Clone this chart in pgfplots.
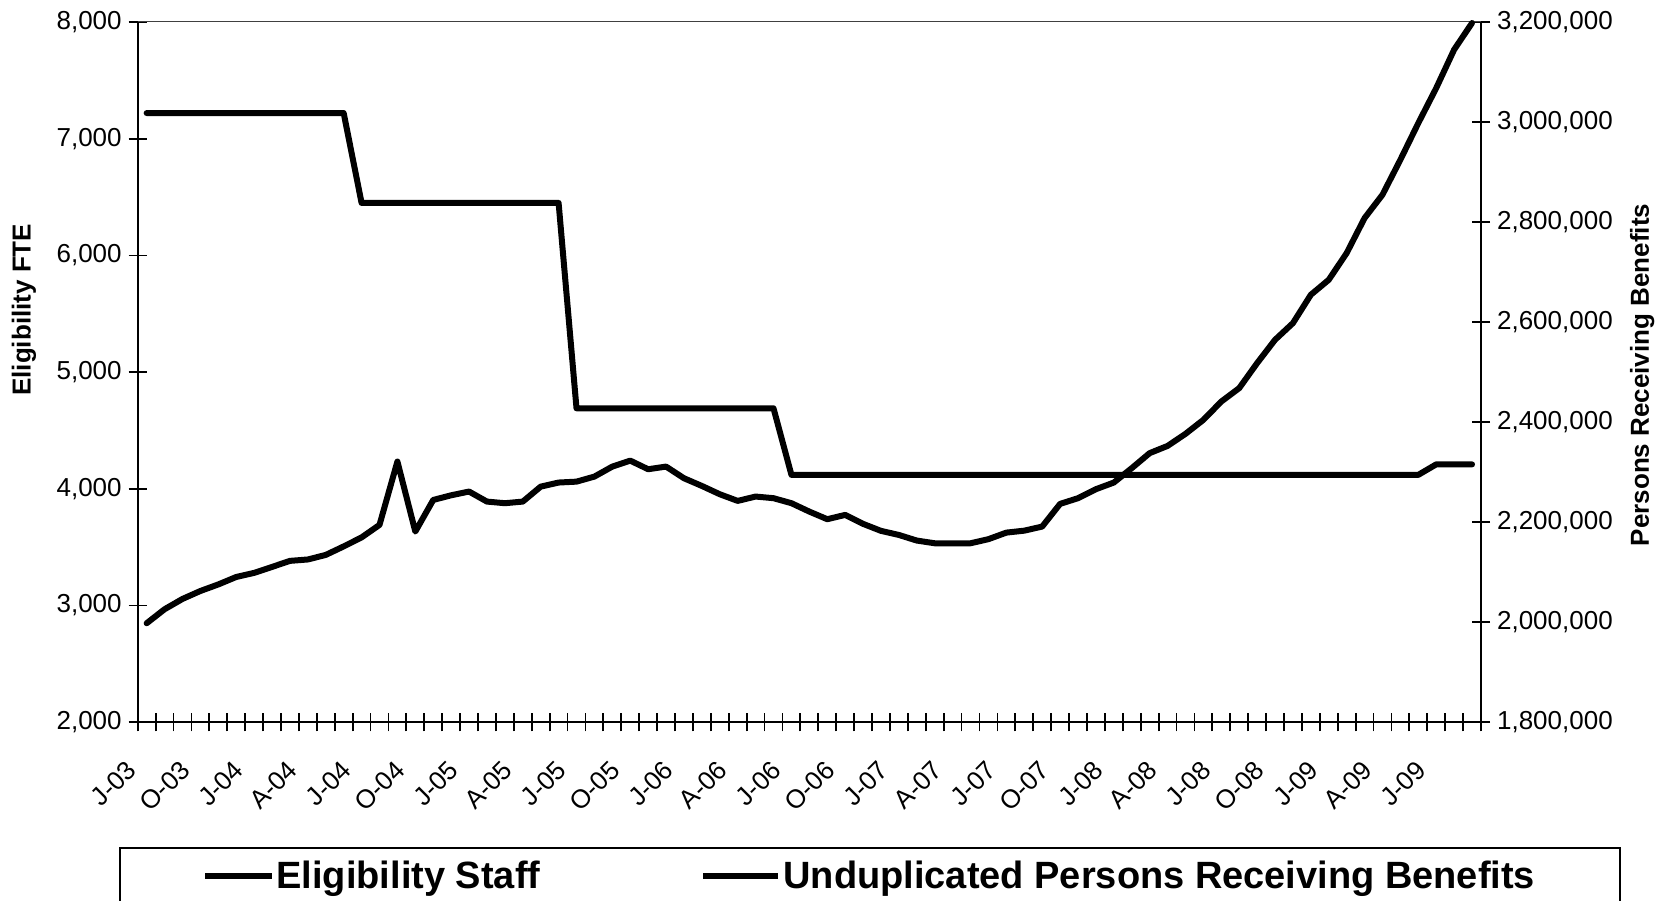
\documentclass[border=0pt]{standalone}
\usepackage{pgfplots}
\pgfplotsset{compat=1.18}
\usepackage{fontspec}
\setmainfont{Liberation Sans}

% Monthly series, Jul 2003 (1) to Sep 2009 (75)
\begin{document}
\begin{tikzpicture}
\pgfplotsset{
  common/.style={
    scale only axis, width=671.65pt, height=350.15pt,
    at={(68.85pt,88.85pt)}, anchor=south west,
    xmin=0.5, xmax=75.5, clip=false,
    tick align=center, major tick length=9pt, minor tick length=9pt,
    tick style={black, line width=0.9pt},
    minor tick style={black, line width=0.9pt},
    axis line style={-, black, line width=1pt},
    /pgf/number format/assume math mode=true,
    tick label style={font=\fontsize{13}{15}\selectfont},
    label style={font=\bfseries\fontsize{13}{15}\selectfont},
  },
  series/.style={black, line width=3pt, line join=round, line cap=round, mark=none},
}
% Left axis: eligibility staff (FTE)
\begin{axis}[common,
  axis x line*=bottom, axis y line*=left,
  ymin=2000, ymax=8000, ytick={2000,3000,4000,5000,6000,7000,8000},
  yticklabel style={/pgf/number format/.cd, fixed, 1000 sep={,}},
  xtick={0.5,3.5,...,72.5},
  minor xtick={1.5,2.5,4.5,5.5,7.5,8.5,10.5,11.5,13.5,14.5,16.5,17.5,19.5,20.5,22.5,23.5,25.5,26.5,28.5,29.5,31.5,32.5,34.5,35.5,37.5,38.5,40.5,41.5,43.5,44.5,46.5,47.5,49.5,50.5,52.5,53.5,55.5,56.5,58.5,59.5,61.5,62.5,64.5,65.5,67.5,68.5,70.5,71.5,73.5,74.5,75.5},
  xticklabels={J-03,O-03,J-04,A-04,J-04,O-04,J-05,A-05,J-05,O-05,J-06,A-06,J-06,O-06,J-07,A-07,J-07,O-07,J-08,A-08,J-08,O-08,J-09,A-09,J-09},
  xticklabel style={xshift=-3pt, yshift=-17pt, rotate=45, anchor=east, inner sep=0pt},
  ylabel={Eligibility FTE},
  ylabel style={at={(axis description cs:-0.0846,0.589)}, anchor=center},
]
\addplot[series] table {
x y
1 7220
2 7220
3 7220
4 7220
5 7220
6 7220
7 7220
8 7220
9 7220
10 7220
11 7220
12 7220
13 6450
14 6450
15 6450
16 6450
17 6450
18 6450
19 6450
20 6450
21 6450
22 6450
23 6450
24 6450
25 4690
26 4690
27 4690
28 4690
29 4690
30 4690
31 4690
32 4690
33 4690
34 4690
35 4690
36 4690
37 4120
38 4120
39 4120
40 4120
41 4120
42 4120
43 4120
44 4120
45 4120
46 4120
47 4120
48 4120
49 4120
50 4120
51 4120
52 4120
53 4120
54 4120
55 4120
56 4120
57 4120
58 4120
59 4120
60 4120
61 4120
62 4120
63 4120
64 4120
65 4120
66 4120
67 4120
68 4120
69 4120
70 4120
71 4120
72 4120
73 4210
74 4210
75 4210
};
\end{axis}
% Right axis: unduplicated persons receiving benefits
\begin{axis}[common,
  axis y line*=right, axis x line*=top, xtick=\empty,
  x axis line style={line width=0.5pt, black!75},
  ymin=1800000, ymax=3200000,
  ytick={1800000,2000000,2200000,2400000,2600000,2800000,3000000,3200000},
  scaled y ticks=false,
  yticklabel style={/pgf/number format/.cd, fixed, 1000 sep={,}},
  ylabel={Persons Receiving Benefits},
  ylabel style={at={(axis description cs:1.12,0.496)}, anchor=center},
]
\addplot[series] table {
x y
1 1998000
2 2026000
3 2046600
4 2062500
5 2075600
6 2090500
7 2098700
8 2110600
9 2122700
10 2125500
11 2134600
12 2151600
13 2169600
14 2194600
15 2321300
16 2181300
17 2244500
18 2253800
19 2261300
20 2241200
21 2238000
22 2241200
23 2271100
24 2279300
25 2281100
26 2291200
27 2311200
28 2323100
29 2305900
30 2311200
31 2287900
32 2272500
33 2255900
34 2242600
35 2251300
36 2248000
37 2238000
38 2221200
39 2206000
40 2214600
41 2196700
42 2182700
43 2174500
44 2163300
45 2157900
46 2157900
47 2157900
48 2166100
49 2179200
50 2183100
51 2191300
52 2236600
53 2248000
54 2266000
55 2279300
56 2308000
57 2338100
58 2352500
59 2376600
60 2404600
61 2441200
62 2468000
63 2518000
64 2564600
65 2598000
66 2654700
67 2684600
68 2738000
69 2808000
70 2854700
71 2924700
72 2997900
73 3067900
74 3144700
75 3198000
};
\end{axis}
% Legend box (its lower edge runs past the bottom of the page)
\draw[line width=0.8pt] (60pt,-10pt) -- (60pt,26pt) -- (810pt,26pt) -- (810pt,-10pt);
\draw[line width=3pt] (102.5pt,12pt) -- (136pt,12pt);
\node[anchor=base west, inner sep=0pt, font=\bfseries\fontsize{19}{23}\selectfont] at (138pt,5.5pt) {Eligibility Staff};
\draw[line width=3pt] (351.5pt,12pt) -- (389pt,12pt);
\node[anchor=base west, inner sep=0pt, font=\bfseries\fontsize{19}{23}\selectfont] at (391.5pt,5.5pt) {Unduplicated Persons Receiving Benefits};
\pgfresetboundingbox
\useasboundingbox (0pt,0pt) rectangle (833pt,450pt);
\end{tikzpicture}
\end{document}
